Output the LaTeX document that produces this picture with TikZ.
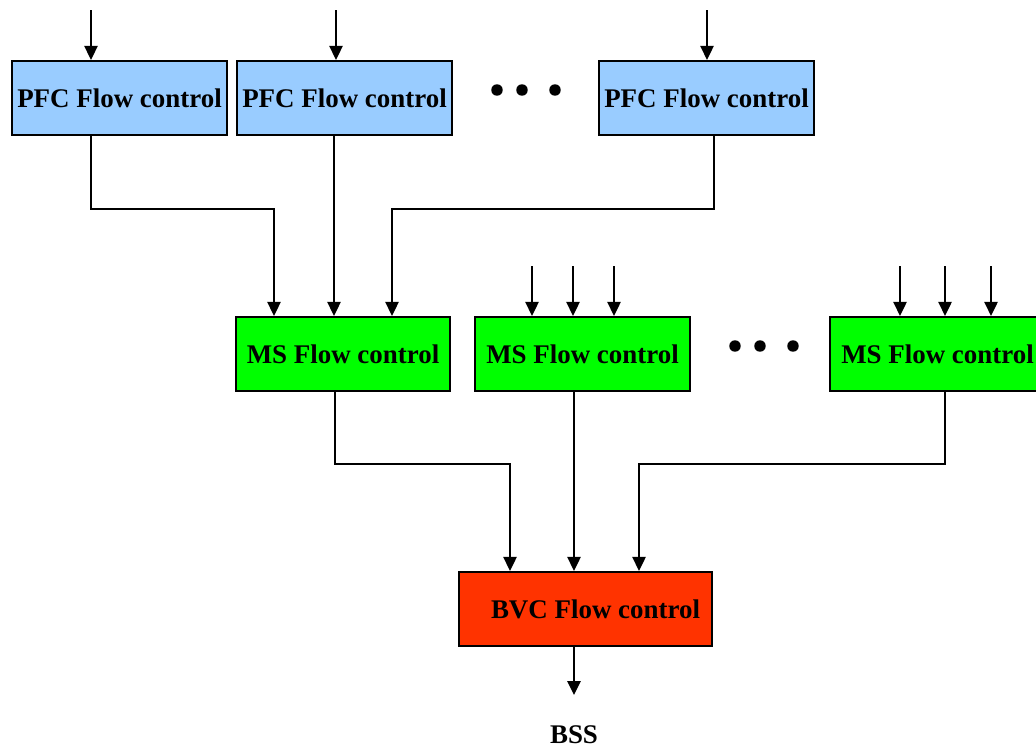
\documentclass[tikz,border=0pt]{standalone}
\usepackage{fontspec}
\setmainfont{Liberation Serif}
\usetikzlibrary{arrows.meta}
\begin{document}
\begin{tikzpicture}[x=0.75pt, y=-0.75pt, line width=1.4pt, >={Triangle[length=10.5pt,width=10pt]},
    box/.style={draw, line width=1.7pt, inner sep=0pt, minimum height=55.5pt,
        font=\fontsize{20.2}{24}\selectfont\bfseries},
    pfcbox/.style={box, fill={rgb,255:red,153;green,204;blue,255}, minimum width=161pt},
    msbox/.style={box, fill={rgb,255:red,0;green,255;blue,0}, minimum width=161pt},
    bvcbox/.style={box, fill={rgb,255:red,255;green,51;blue,0}, minimum width=190pt}]
    \useasboundingbox (0,0) rectangle (1036,747);
    % PFC level
    \node[pfcbox] (pfc1) at (119.5,98) {PFC Flow control};
    \node[pfcbox] (pfc2) at (344.5,98) {PFC Flow control};
    \node[pfcbox] (pfc3) at (706.5,98) {PFC Flow control};
    \foreach \x in {497,522,555} \fill (\x,90) circle (4.3pt);
    \coordinate (i1) at (91,10);
    \coordinate (i2) at (336,10);
    \coordinate (i3) at (707,10);
    \draw[->] (i1) -- (i1 |- pfc1.north);
    \draw[->] (i2) -- (i2 |- pfc2.north);
    \draw[->] (i3) -- (i3 |- pfc3.north);
    % MS level
    \node[msbox] (ms1) at (343,354) {MS Flow control};
    \node[msbox] (ms2) at (582.5,354) {MS Flow control};
    \node[msbox] (ms3) at (937.5,354) {MS Flow control};
    \foreach \x in {735,760,793} \fill (\x,346) circle (4.3pt);
    \foreach \x in {532,573,614} \draw[->] (\x,266) -- (ms2.north -| \x,0);
    \foreach \x in {900,945,991} \draw[->] (\x,266) -- (ms3.north -| \x,0);
    \draw[->] (i1 |- pfc1.south) |- (274,209) -- (ms1.north -| 274,0);
    \draw[->] (pfc2.south -| 334,0) -- (ms1.north -| 334,0);
    \draw[->] (pfc3.south -| 714,0) |- (392,209) -- (ms1.north -| 392,0);
    % BVC level
    \node[bvcbox] (bvc) at (585.5,609) {\hspace*{15pt}BVC Flow control};
    \draw[->] (ms1.south -| 335,0) |- (510,464) -- (bvc.north -| 510,0);
    \draw[->] (ms2.south -| 574,0) -- (bvc.north -| 574,0);
    \draw[->] (ms3.south -| 945,0) |- (639,464) -- (bvc.north -| 639,0);
    \node[font=\fontsize{20.2}{24}\selectfont\bfseries, anchor=base, inner sep=0pt] (bss) at (574,743) {BSS};
    \coordinate (out) at (574,695);
    \draw[->] (bvc.south -| out) -- (out);
\end{tikzpicture}
\end{document}
